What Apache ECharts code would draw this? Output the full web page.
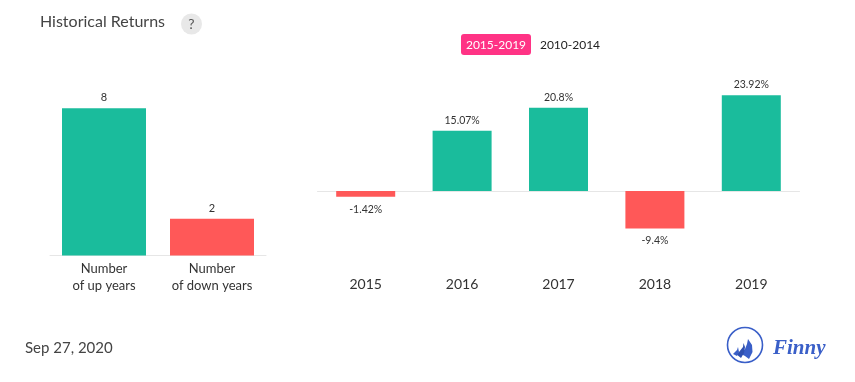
<!DOCTYPE html>
<html><head><meta charset="utf-8">
<style>html,body{margin:0;padding:0;background:#fff}#c{width:855px;height:382px}</style>
<script src="https://cdn.jsdelivr.net/npm/echarts@6/dist/echarts.min.js"></script>
</head><body><div id="c"></div>
<script>
const countCategories = ['Number\nof up years', 'Number\nof down years'];
const countValues = [8, 2];
const years = ['2015', '2016', '2017', '2018', '2019'];
const returns = [-1.42, 15.07, 20.8, -9.4, 23.92];
const UP = '#1abc9c', DOWN = '#ff5858', AXIS = '#e6e6e6', FONT = 'Lato';
const color = v => v >= 0 ? UP : DOWN;
const chart = echarts.init(document.getElementById('c'), null, {renderer: 'canvas'});
chart.setOption({
  animation: false,
  textStyle: {fontFamily: FONT},
  grid: [
    {left: 50, top: 71.5, width: 216, height: 184},
    {left: 317.5, top: 71, width: 482, height: 200}
  ],
  xAxis: [
    {gridIndex: 0, type: 'category', data: countCategories,
     axisLine: {lineStyle: {color: AXIS, width: 1}}, axisTick: {show: false},
     axisLabel: {interval: 0, color: '#333', fontFamily: FONT, fontSize: 13, lineHeight: 17, margin: 5}},
    {gridIndex: 1, type: 'category', data: years, position: 'bottom',
     axisLine: {show: false, onZero: false}, axisTick: {show: false},
     axisLabel: {color: '#333', fontFamily: FONT, fontSize: 14, margin: 6}},
    {gridIndex: 1, type: 'category', data: years, position: 'top',
     axisLine: {show: true, onZero: true, lineStyle: {color: AXIS, width: 1}},
     axisTick: {show: false}, axisLabel: {show: false}}
  ],
  yAxis: [
    {gridIndex: 0, type: 'value', min: 0, max: 10, show: false, splitLine: {show: false}},
    {gridIndex: 1, type: 'value', min: -20, max: 30, show: false, splitLine: {show: false}}
  ],
  series: [
    {type: 'bar', xAxisIndex: 0, yAxisIndex: 0, barWidth: 84,
     data: countValues.map((v, i) => ({value: v, itemStyle: {color: i === 0 ? UP : DOWN}})),
     label: {show: true, position: 'top', distance: 5, color: '#333', fontFamily: FONT, fontSize: 11}},
    {type: 'bar', xAxisIndex: 1, yAxisIndex: 1, barWidth: 59,
     data: returns.map(v => ({value: v, itemStyle: {color: color(v)},
       label: {position: v >= 0 ? 'top' : 'bottom', distance: v >= 0 ? 5 : 7}})),
     label: {show: true, color: '#333', fontFamily: FONT, fontSize: 10.5, formatter: p => p.value + '%'}}
  ],
  graphic: [
    {type: 'text', x: 40, y: 14, style: {text: 'Historical Returns', fill: '#444', font: '16px Lato'}},
    {type: 'circle', shape: {cx: 191.5, cy: 24, r: 10.5}, style: {fill: '#e8e8e8'}},
    {type: 'text', x: 191.5, y: 24, style: {text: '?', fill: '#555', font: '14px Lato', align: 'center', verticalAlign: 'middle'}},
    {type: 'rect', shape: {x: 461, y: 34, width: 70, height: 21, r: 3}, style: {fill: '#ff3385'}},
    {type: 'text', x: 496, y: 45, style: {text: '2015-2019', fill: '#fff', font: '12px Lato', align: 'center', verticalAlign: 'middle'}},
    {type: 'text', x: 570, y: 45, style: {text: '2010-2014', fill: '#222', font: '12px Lato', align: 'center', verticalAlign: 'middle'}},
    {type: 'text', x: 25, y: 341, style: {text: 'Sep 27, 2020', fill: '#444', font: '15px Lato'}},
    {type: 'circle', shape: {cx: 745, cy: 345, r: 17.5}, style: {fill: 'none', stroke: '#3a5fc8', lineWidth: 1.6}},
    {type: 'polygon', shape: {points: [[748, 339], [752, 345], [752.5, 352], [749, 359], [745, 356], [741, 354], [745, 349], [747, 344]]}, style: {fill: '#3a5fc8'}},
    {type: 'polygon', shape: {points: [[743.5, 343], [743, 347], [739, 352], [736, 354], [741, 358], [744, 353], [745, 347]]}, style: {fill: '#2f50b0'}},
    {type: 'polygon', shape: {points: [[738, 347], [737, 350], [733, 354], [737, 356], [739, 352]]}, style: {fill: '#3a5fc8'}},
    {type: 'text', x: 773, y: 349, style: {text: 'Finny', fill: '#3a5fc8', font: 'italic bold 21px "Liberation Serif"', verticalAlign: 'middle'}}
  ]
});
</script></body></html>
